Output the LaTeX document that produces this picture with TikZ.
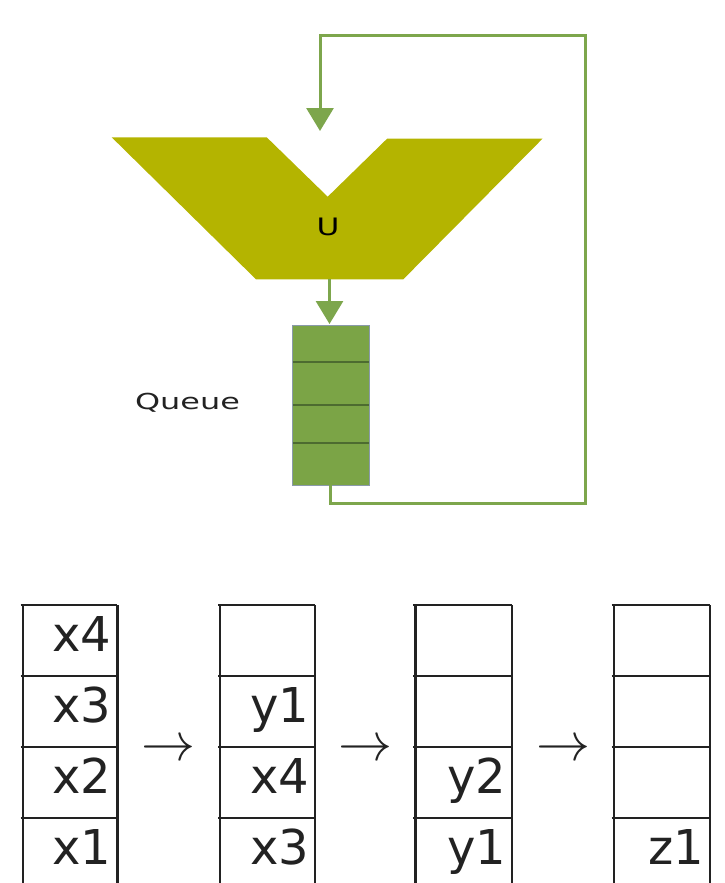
\documentclass[tikz,border=0pt]{standalone}
\usepackage{fontspec}
\setmainfont{DejaVu Sans}
\usetikzlibrary{arrows.meta}
\definecolor{olive}{HTML}{B4B400}
\definecolor{qgreen}{HTML}{7BA446}
\definecolor{lgreen}{HTML}{7DA64C}
\definecolor{dgreen}{HTML}{4D6B30}
\definecolor{qedge}{HTML}{8A9AAA}
\definecolor{ink}{HTML}{222222}
\tikzset{
  flow/.style={draw=lgreen, line width=3pt},
  flowarrow/.style={flow, -{Triangle[length=23pt,width=27pt]}},
  cellline/.style={draw=ink, line width=2.4pt},
  celltext/.style={anchor=base east, inner sep=0pt, font=\fontsize{48}{50}\selectfont, text=ink},
  arrowtext/.style={inner sep=0pt, scale=5.4, text=ink},
}
\begin{document}
\begin{tikzpicture}[x=1pt,y=-1pt]
\useasboundingbox (0,0) rectangle (725,883);
% union shape
\fill[olive] (111.7,137.3) -- (266.7,137.3) -- (327.7,196.7) -- (387.3,138.5) -- (542.7,138.5)
  -- (403.3,279.3) -- (256,279.3) -- cycle;
\node[inner sep=0pt, xscale=1.3, font=\fontsize{24}{26}\selectfont] (u) at (328,227) {U};
\coordinate (uin) at (320,131);
\coordinate (uout) at (329.5,279.3);
% queue
\node[draw=qedge, line width=0.8pt, fill=qgreen, minimum width=77pt, minimum height=160pt, inner sep=0pt] (queue) at (330.8,405) {};
\foreach \yy in {362.3,405,443.3}
  \draw[dgreen, line width=1.8pt] (292.8,\yy) -- (368.8,\yy);
\node[inner sep=0pt, xscale=1.45, font=\fontsize{22}{24}\selectfont, text=ink] (qlabel) at (187.5,403) {Queue};
\coordinate (qin) at (329.5,324);
% arrows
\draw[flowarrow] (uout) -- (qin);
\coordinate (c1) at (330,503);
\coordinate (c2) at (585,503);
\coordinate (c3) at (585,36);
\coordinate (c4) at (320,36);
\draw[flowarrow] (330,485) -- (c1) -- (c2) -- (c3) -- (c4) -- (uin);
% stacks
\foreach \xl/\xr in {22.7/117.3, 220/315, 415.3/512, 613.7/709.7}{
  \draw[cellline] (\xl,605) -- (\xl,885);
  \draw[cellline] (\xr,605) -- (\xr,885);
  \foreach \yy in {605,676,747,818}
    \draw[cellline] (\xl-2,\yy) -- (\xr,\yy);
}
\node[celltext] (a4) at (111.7,651) {x4};
\node[celltext] (a3) at (111.7,722) {x3};
\node[celltext] (a2) at (111.7,793) {x2};
\node[celltext] (a1) at (111.7,864) {x1};
\node[celltext] (b3) at (309.5,722) {y1};
\node[celltext] (b2) at (309.5,793) {x4};
\node[celltext] (b1) at (309.5,864) {x3};
\node[celltext] (c2t) at (506.5,793) {y2};
\node[celltext] (c1t) at (506.5,864) {y1};
\node[celltext] (d1) at (704.2,864) {z1};
\node[arrowtext] (r1) at (168,751) {$\rightarrow$};
\node[arrowtext] (r2) at (365,751) {$\rightarrow$};
\node[arrowtext] (r3) at (563,751) {$\rightarrow$};
\end{tikzpicture}
\end{document}
